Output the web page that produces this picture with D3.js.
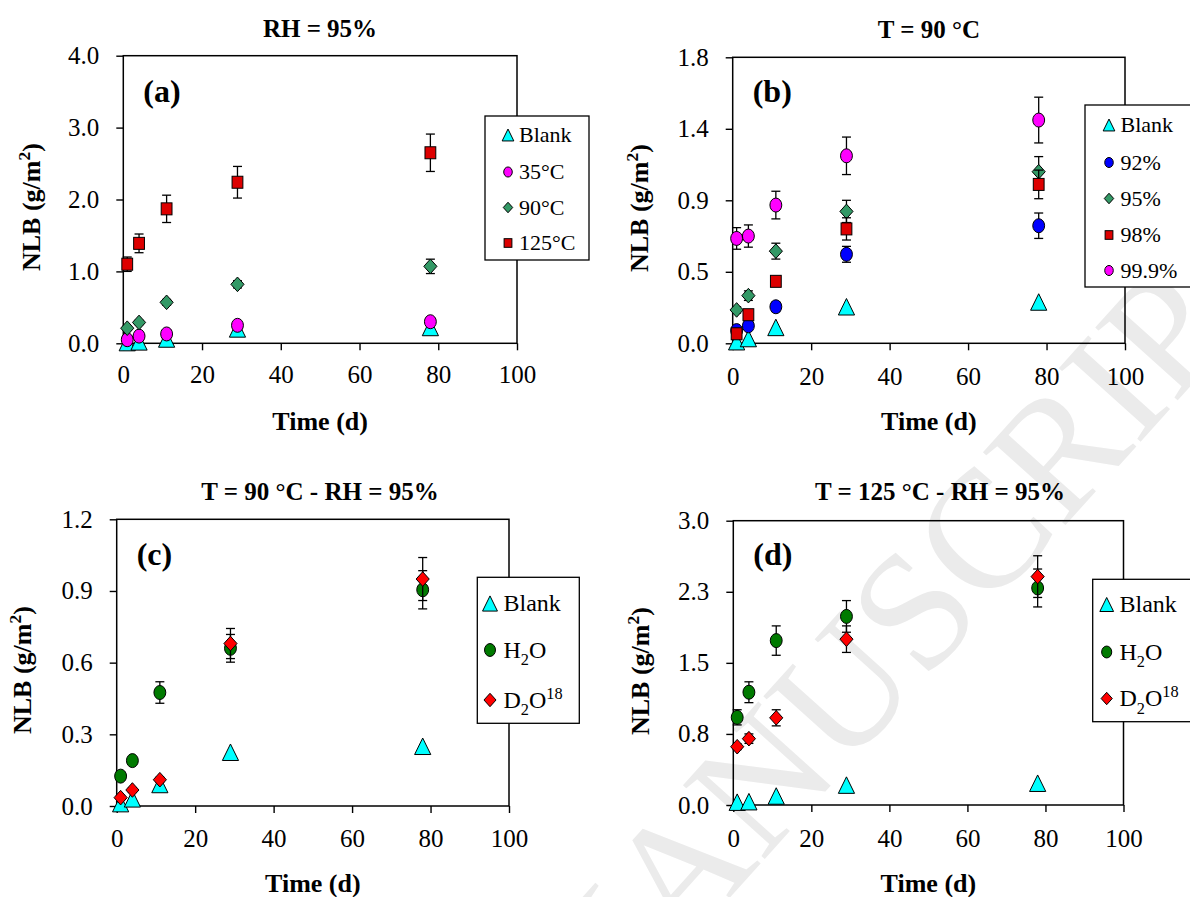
<!DOCTYPE html>
<html>
<head>
<meta charset="utf-8">
<script src="https://cdn.jsdelivr.net/npm/d3@7"></script>
<style>
  html, body { margin: 0; padding: 0; background: #fff; }
  svg { display: block; }
</style>
</head>
<body>
<svg id="chart" width="1190" height="897"></svg>
<script>
// ---------- data ----------
const days = [1, 4, 11, 29, 78];
const xTicks = [0, 20, 40, 60, 80, 100];

// (a) RH = 95 %, different temperatures
const blankA = [0.01, 0.02, 0.06, 0.20, 0.22];
const t35 = [0.05, 0.10, 0.13, 0.25, 0.30];
const t35Err = [0.01, 0.01, 0.02, 0.03, 0.03];
const t90 = [0.21, 0.29, 0.57, 0.82, 1.07];
const t90Err = [0.03, 0.03, 0.04, 0.05, 0.10];
const t125 = [1.10, 1.39, 1.87, 2.24, 2.65];
const t125Err = [0.10, 0.13, 0.19, 0.22, 0.26];
const yTicksA = [0, 1, 2, 3, 4];
const yLabelsA = ["0.0", "1.0", "2.0", "3.0", "4.0"];

// (b) T = 90 °C, different relative humidities
const blankB = [0.01, 0.03, 0.10, 0.23, 0.26];
const rh92 = [0.08, 0.11, 0.23, 0.56, 0.74];
const rh92Err = [0.02, 0.02, 0.03, 0.05, 0.08];
const rh95 = [0.21, 0.30, 0.58, 0.83, 1.08];
const rh95Err = [0.02, 0.03, 0.05, 0.07, 0.095];
const rh98 = [0.06, 0.18, 0.39, 0.72, 1.00];
const rh98Err = [0.02, 0.02, 0.03, 0.07, 0.09];
const rh999 = [0.66, 0.675, 0.87, 1.18, 1.405];
const rh999Err = [0.068, 0.07, 0.087, 0.118, 0.144];
const yTicksB = [0, 0.45, 0.9, 1.35, 1.8];
const yLabelsB = ["0.0", "0.5", "0.9", "1.4", "1.8"];

// (c) T = 90 °C - RH = 95 %, H2O vs D2O18
const blankC = [0.01, 0.03, 0.09, 0.225, 0.25];
const h2oC = [0.125, 0.19, 0.475, 0.66, 0.905];
const h2oCErr = [0.01, 0.01, 0.045, 0.058, 0.08];
const d2oC = [0.035, 0.067, 0.11, 0.68, 0.95];
const d2oCErr = [0.01, 0.01, 0.01, 0.063, 0.09];
const yTicksC = [0, 0.3, 0.6, 0.9, 1.2];
const yLabelsC = ["0.0", "0.3", "0.6", "0.9", "1.2"];

// (d) T = 125 °C - RH = 95 %, H2O vs D2O18
const blankD = [0.03, 0.035, 0.095, 0.21, 0.23];
const h2oD = [0.925, 1.19, 1.735, 1.99, 2.29];
const h2oDErr = [0.08, 0.11, 0.155, 0.167, 0.20];
const d2oD = [0.615, 0.70, 0.92, 1.75, 2.41];
const d2oDErr = [0.03, 0.05, 0.085, 0.14, 0.22];
const yTicksD = [0, 0.75, 1.5, 2.25, 3];
const yLabelsD = ["0.0", "0.8", "1.5", "2.3", "3.0"];

// ---------- styling ----------
const FONT = '"Liberation Serif", "Times New Roman", Times, serif';
const C = {
  blank: "#00FFFF", magenta: "#FF00FF", sea: "#339966", red: "#DD0000",
  blue: "#0000FF", green: "#007A00", brightRed: "#FF0000"
};

const svg = d3.select("#chart");

// faint diagonal watermark
svg.append("text")
  .attr("transform", "translate(1305,259) rotate(-48)")
  .attr("text-anchor", "end")
  .attr("font-family", FONT)
  .attr("font-size", 168)
  .attr("fill", "#ebebeb")
  .text("ACCEPTED MANUSCRIPT");

// marker drawing; sx squeezes markers slightly horizontally
function drawMarker(sel, shape, cx, cy, color, k) {
  const sx = 0.9;
  let m;
  if (shape === "circle") {
    m = sel.append("ellipse").attr("cx", cx).attr("cy", cy)
      .attr("rx", 6.6 * sx * k).attr("ry", 7 * k);
  } else if (shape === "square") {
    const s = 12 * k;
    m = sel.append("rect").attr("x", cx - s * sx / 2).attr("y", cy - s / 2)
      .attr("width", s * sx).attr("height", s);
  } else if (shape === "diamond") {
    const s = 7.3 * k;
    m = sel.append("path")
      .attr("d", `M${cx},${cy - s}L${cx + s * sx},${cy}L${cx},${cy + s}L${cx - s * sx},${cy}Z`);
  } else {
    const w = 18 * k, h = 16.5 * k;
    m = sel.append("path")
      .attr("d", `M${cx},${cy - h / 2}L${cx + w * sx / 2},${cy + h / 2}L${cx - w * sx / 2},${cy + h / 2}Z`);
  }
  m.attr("fill", color).attr("stroke", "#000").attr("stroke-width", 1);
}

// writes text made of plain / subscript / superscript parts
function richText(t, parts, size) {
  let shift = 0;
  parts.forEach(p => {
    const want = p.sub ? 0.3 * size : p.sup ? -0.38 * size : 0;
    const ts = t.append("tspan").attr("dy", want - shift).text(p.t);
    if (p.sub || p.sup) ts.attr("font-size", size * 0.68);
    shift = want;
  });
}

function drawPanel(p) {
  const g = svg.append("g");
  const x = d3.scaleLinear().domain([0, 100]).range([p.left, p.right]);
  const y = d3.scaleLinear().domain([0, p.yMax]).range([p.bottom, p.top]);

  // axes with outward ticks
  const ax = g.append("g").attr("transform", `translate(0,${p.bottom})`)
    .call(d3.axisBottom(x).tickValues(xTicks).tickSize(7).tickSizeOuter(0)
      .tickPadding(p.xTickBase - p.bottom - 7 - 17.75));
  const ay = g.append("g").attr("transform", `translate(${p.left},0)`)
    .call(d3.axisLeft(y).tickValues(p.yTicks).tickSize(7).tickSizeOuter(0)
      .tickPadding(17).tickFormat((d, i) => p.yLabels[i]));
  [ax, ay].forEach(a => {
    a.attr("font-family", FONT).attr("font-size", 25);
    a.select(".domain").remove();
    a.selectAll(".tick line").attr("stroke", "#000").attr("stroke-width", 1.4);
    a.selectAll(".tick text").attr("fill", "#000");
  });

  // plot frame
  g.append("rect").attr("x", p.left).attr("y", p.top)
    .attr("width", p.right - p.left).attr("height", p.bottom - p.top)
    .attr("fill", "none").attr("stroke", "#000").attr("stroke-width", 1.5);

  // series: error bars behind markers
  p.series.forEach(s => {
    const sg = g.append("g");
    if (s.err) {
      days.forEach((d, i) => {
        const e = s.err[i];
        if (!e) return;
        const cx = x(d), y1 = y(s.values[i] + e), y0 = y(s.values[i] - e);
        sg.append("line").attr("x1", cx).attr("x2", cx).attr("y1", y1).attr("y2", y0)
          .attr("stroke", "#000").attr("stroke-width", 1.3);
        [y1, y0].forEach(yy => sg.append("line")
          .attr("x1", cx - 4.5).attr("x2", cx + 4.5).attr("y1", yy).attr("y2", yy)
          .attr("stroke", "#000").attr("stroke-width", 1.3));
      });
    }
    days.forEach((d, i) => drawMarker(sg, s.shape, x(d), y(s.values[i]), s.color, 1));
  });

  // title
  g.append("text").attr("x", p.titleX).attr("y", p.titleY)
    .attr("text-anchor", "middle").attr("font-family", FONT)
    .attr("font-weight", "bold").attr("font-size", 25).text(p.title);

  // panel tag
  g.append("text").attr("x", p.left + 20).attr("y", p.tagY)
    .attr("font-family", FONT).attr("font-weight", "bold")
    .attr("font-size", 32).text(p.tag);

  // axis titles
  g.append("text").attr("x", (p.left + p.right) / 2).attr("y", p.xTitleY)
    .attr("text-anchor", "middle").attr("font-family", FONT)
    .attr("font-weight", "bold").attr("font-size", 26).text("Time (d)");
  const yl = g.append("text")
    .attr("transform", `translate(${p.yTitleX + 9},${p.yTitleY}) rotate(-90)`)
    .attr("text-anchor", "middle").attr("font-family", FONT)
    .attr("font-weight", "bold").attr("font-size", 26);
  richText(yl, [{ t: "NLB (g/m" }, { t: "2", sup: true }, { t: ")" }], 26);

  // legend
  const L = p.legend;
  g.append("rect").attr("x", L.x0).attr("y", L.y0)
    .attr("width", L.x1 - L.x0).attr("height", L.y1 - L.y0)
    .attr("fill", "#fff").attr("stroke", "#000").attr("stroke-width", 1.3);
  p.series.forEach((s, i) => {
    const ry = L.rows[i];
    drawMarker(g, s.shape, L.markX, ry, s.color, L.k);
    const t = g.append("text").attr("x", L.textX).attr("y", ry + L.size * 0.33)
      .attr("font-family", FONT).attr("font-size", L.size);
    richText(t, s.label, L.size);
  });
}

drawPanel({
  left: 123.3, right: 517, top: 55.7, bottom: 343.3, yMax: 4,
  yTicks: yTicksA, yLabels: yLabelsA, xTickBase: 383.5, xTitleY: 430,
  title: "RH = 95%", titleX: 320, titleY: 37, tag: "(a)", tagY: 102,
  yTitleX: 30.5, yTitleY: 207,
  series: [
    { label: [{ t: "Blank" }], values: blankA, shape: "triangle", color: C.blank },
    { label: [{ t: "35°C" }], values: t35, err: t35Err, shape: "circle", color: C.magenta },
    { label: [{ t: "90°C" }], values: t90, err: t90Err, shape: "diamond", color: C.sea },
    { label: [{ t: "125°C" }], values: t125, err: t125Err, shape: "square", color: C.red }
  ],
  legend: { x0: 485, x1: 589, y0: 116, y1: 260, rows: [135, 172, 207.5, 243],
            markX: 508, textX: 519, size: 22, k: 0.72 }
});

drawPanel({
  left: 732.7, right: 1125, top: 57.3, bottom: 343.3, yMax: 1.8,
  yTicks: yTicksB, yLabels: yLabelsB, xTickBase: 385, xTitleY: 430,
  title: "T = 90 °C", titleX: 929, titleY: 38, tag: "(b)", tagY: 102,
  yTitleX: 639, yTitleY: 208,
  series: [
    { label: [{ t: "Blank" }], values: blankB, shape: "triangle", color: C.blank },
    { label: [{ t: "92%" }], values: rh92, err: rh92Err, shape: "circle", color: C.blue },
    { label: [{ t: "95%" }], values: rh95, err: rh95Err, shape: "diamond", color: C.sea },
    { label: [{ t: "98%" }], values: rh98, err: rh98Err, shape: "square", color: C.red },
    { label: [{ t: "99.9%" }], values: rh999, err: rh999Err, shape: "circle", color: C.magenta }
  ],
  legend: { x0: 1085, x1: 1200, y0: 105, y1: 287, rows: [125, 162.5, 198.5, 235, 270.5],
            markX: 1109, textX: 1120.5, size: 22, k: 0.72 }
});

drawPanel({
  left: 116.7, right: 509, top: 519.3, bottom: 806, yMax: 1.2,
  yTicks: yTicksC, yLabels: yLabelsC, xTickBase: 847, xTitleY: 892,
  title: "T = 90 °C - RH = 95%", titleX: 320, titleY: 500, tag: "(c)", tagY: 565,
  yTitleX: 22, yTitleY: 670,
  series: [
    { label: [{ t: "Blank" }], values: blankC, shape: "triangle", color: C.blank },
    { label: [{ t: "H" }, { t: "2", sub: true }, { t: "O" }], values: h2oC, err: h2oCErr, shape: "circle", color: C.green },
    { label: [{ t: "D" }, { t: "2", sub: true }, { t: "O" }, { t: "18", sup: true }], values: d2oC, err: d2oCErr, shape: "diamond", color: C.brightRed }
  ],
  legend: { x0: 477.3, x1: 579.3, y0: 577.3, y1: 723.3, rows: [603.5, 650, 700],
            markX: 490, textX: 503.5, size: 24, k: 0.92 }
});

drawPanel({
  left: 733.3, right: 1123.5, top: 520.7, bottom: 805, yMax: 3,
  yTicks: yTicksD, yLabels: yLabelsD, xTickBase: 847, xTitleY: 892,
  title: "T = 125 °C - RH = 95%", titleX: 940, titleY: 500, tag: "(d)", tagY: 565,
  yTitleX: 640, yTitleY: 671,
  series: [
    { label: [{ t: "Blank" }], values: blankD, shape: "triangle", color: C.blank },
    { label: [{ t: "H" }, { t: "2", sub: true }, { t: "O" }], values: h2oD, err: h2oDErr, shape: "circle", color: C.green },
    { label: [{ t: "D" }, { t: "2", sub: true }, { t: "O" }, { t: "18", sup: true }], values: d2oD, err: d2oDErr, shape: "diamond", color: C.brightRed }
  ],
  legend: { x0: 1092.7, x1: 1200, y0: 579.3, y1: 721.7, rows: [604.5, 652, 698.5],
            markX: 1106.7, textX: 1119.5, size: 24, k: 0.85 }
});
</script>
</body>
</html>
